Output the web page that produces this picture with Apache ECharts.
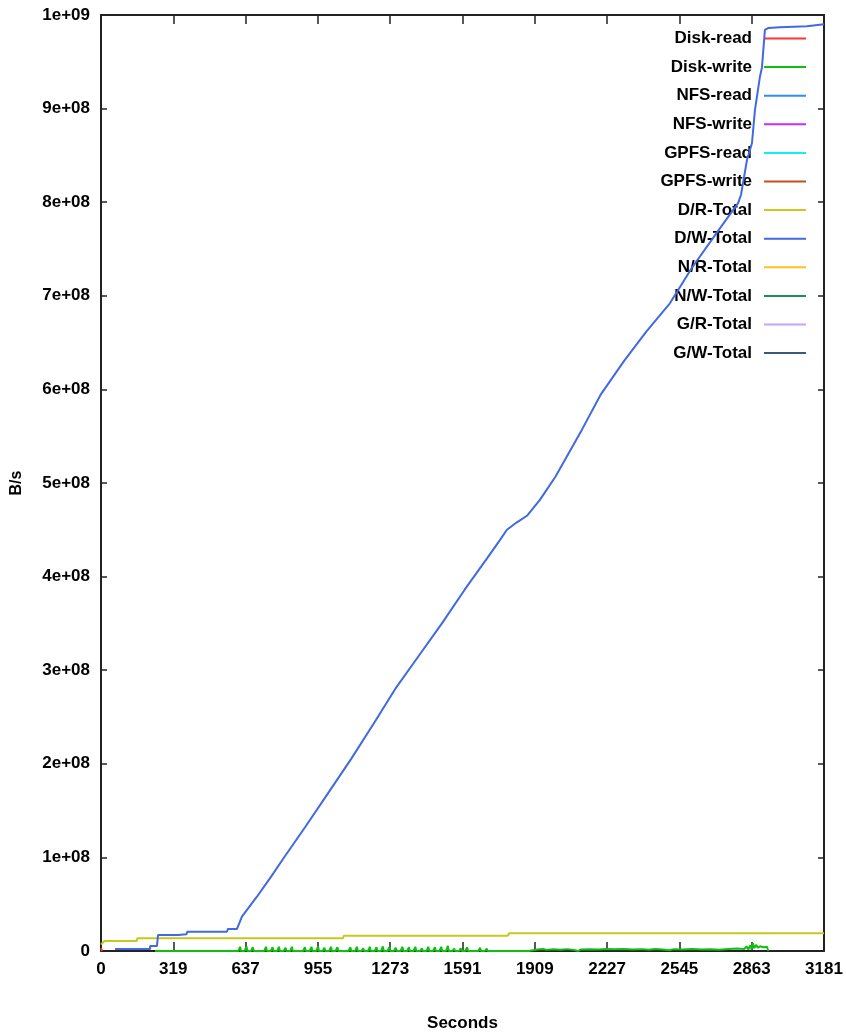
<!DOCTYPE html>
<html>
<head>
<meta charset="utf-8">
<title>I/O throughput</title>
<script src="https://cdn.jsdelivr.net/npm/echarts@6/dist/echarts.min.js"></script>
<style>
  html, body { margin: 0; padding: 0; background: #fff; }
  #chart { width: 846px; height: 1034px; }
</style>
</head>
<body>
<div id="chart"></div>
<script>
// Tick labels
const xTickLabels = ['0', '319', '637', '955', '1273', '1591', '1909', '2227', '2545', '2863', '3181'];
const yTickLabels = ['0', '1e+08', '2e+08', '3e+08', '4e+08', '5e+08', '6e+08', '7e+08', '8e+08', '9e+08', '1e+09'];

// Series names, in legend order
const seriesNames = ['Disk-read', 'Disk-write', 'NFS-read', 'NFS-write', 'GPFS-read', 'GPFS-write',
  'D/R-Total', 'D/W-Total', 'N/R-Total', 'N/W-Total', 'G/R-Total', 'G/W-Total'];

// [seconds, bytes/s]
const diskRead = [[0, 3e6], [5, 0]];

// Disk-write bursts: [seconds, peak bytes/s]
const diskWritePeaks = [
  [246, 1.5e6],
  [612, 4.5e6], [640, 5.0e6], [668, 4.0e6], [697, 1.5e6], [726, 4.5e6], [755, 4.0e6], [783, 4.5e6],
  [812, 3.5e6], [840, 4.5e6], [869, 2.0e6], [897, 4.0e6], [926, 4.5e6], [955, 5.0e6], [983, 3.5e6],
  [1012, 4.5e6], [1040, 4.0e6], [1069, 2.0e6], [1097, 4.0e6], [1126, 4.5e6], [1154, 3.0e6], [1183, 4.5e6],
  [1212, 4.0e6], [1240, 5.0e6], [1269, 4.5e6], [1297, 3.5e6], [1326, 4.5e6], [1355, 4.0e6], [1383, 4.5e6],
  [1412, 3.0e6], [1440, 4.5e6], [1469, 4.0e6], [1497, 4.5e6], [1526, 5.5e6], [1554, 2.5e6], [1583, 3.0e6],
  [1611, 4.0e6], [1640, 2.0e6], [1668, 3.5e6], [1697, 2.5e6], [1725, 1.2e6], [1760, 1.0e6], [1795, 1.0e6],
  [1830, 1.2e6], [1860, 1.0e6]
];
// Disk-write sustained period: [seconds, bytes/s]
const diskWriteBand = [
  [1880, 0], [1888, 1.8e6], [1920, 1.5e6], [1945, 2.2e6], [1960, 1.2e6], [1990, 1.8e6], [2020, 1.4e6],
  [2050, 2.0e6], [2080, 1.2e6], [2100, 0], [2110, 1.6e6], [2150, 2.0e6], [2190, 1.5e6], [2220, 2.2e6],
  [2260, 1.8e6], [2300, 2.1e6], [2340, 1.6e6], [2380, 2.0e6], [2410, 1.4e6], [2440, 2.2e6], [2470, 1.6e6],
  [2500, 0.8e6], [2520, 2.0e6], [2560, 1.6e6], [2600, 2.2e6], [2640, 1.5e6], [2680, 2.0e6], [2720, 1.4e6],
  [2760, 2.2e6], [2800, 2.6e6], [2830, 2.0e6], [2840, 5.0e6], [2848, 1.5e6], [2856, 6.0e6], [2862, 2.0e6],
  [2868, 8.5e6], [2874, 3.0e6], [2882, 6.5e6], [2890, 3.5e6], [2900, 5.0e6], [2915, 4.0e6], [2930, 4.5e6],
  [2936, 0]
];

const drTotal = [
  [0, 7e6], [15, 1.07e7], [157, 1.07e7], [160, 1.36e7], [1065, 1.36e7], [1068, 1.63e7],
  [1790, 1.63e7], [1795, 1.9e7], [3181, 1.9e7]
];

const dwTotal = [
  [62, 2.1e6], [216, 2.1e6], [216, 5.3e6], [246, 5.3e6], [251, 1.71e7], [339, 1.71e7], [342, 1.8e7],
  [376, 1.8e7], [379, 2.06e7], [554, 2.06e7], [558, 2.35e7], [598, 2.35e7], [620, 3.67e7], [686, 5.8e7],
  [750, 8.0e7], [800, 9.8e7], [900, 1.33e8], [1000, 1.69e8], [1100, 2.05e8], [1200, 2.43e8], [1300, 2.82e8],
  [1400, 3.16e8], [1500, 3.5e8], [1600, 3.86e8], [1700, 4.2e8], [1755, 4.39e8], [1786, 4.5e8], [1830, 4.58e8],
  [1874, 4.65e8], [1931, 4.82e8], [2000, 5.07e8], [2116, 5.57e8], [2200, 5.95e8], [2300, 6.3e8],
  [2400, 6.62e8], [2503, 6.92e8], [2600, 7.3e8], [2723, 7.72e8], [2803, 7.99e8], [2816, 8.08e8],
  [2842, 8.45e8], [2864, 8.63e8], [2877, 8.98e8], [2899, 9.34e8], [2908, 9.44e8], [2921, 9.84e8],
  [2935, 9.86e8], [2987, 9.87e8], [2990, 9.88e8], [3106, 9.88e8], [3108, 9.9e8], [3181, 9.9e8]
];

const emptySeries = [];

const seriesColors = ['#ff3333', '#10c010', '#2a8cff', '#c030ff', '#10f0f0', '#c05020',
  '#c8c81e', '#4169e1', '#ffc020', '#228b57', '#c8a0ff', '#3a5a78'];

// Disk-write line: each burst ramps up from zero and drops back
const diskWrite = [];
diskWritePeaks.forEach(function (p) {
  diskWrite.push([p[0] - 8, 0], [p[0], p[1]], [p[0] + 4, 0]);
});
diskWriteBand.forEach(function (p) { diskWrite.push(p); });

const seriesData = [diskRead, diskWrite, emptySeries, emptySeries, emptySeries, emptySeries,
  drTotal, dwTotal, emptySeries, emptySeries, emptySeries, emptySeries];

const FONT = "'Liberation Sans', Arial, sans-serif";
const AXIS_COLOR = '#222';

const chart = echarts.init(document.getElementById('chart'), null, { renderer: 'canvas' });

const xLabel = function (v) { return xTickLabels[Math.round(v / 318.1)]; };
const yLabel = function (v) { return yTickLabels[Math.round(v / 1e8)]; };

const baseX = {
  type: 'value', min: 0, max: 3181, interval: 318.1,
  axisLine: { show: true, onZero: false, lineStyle: { color: AXIS_COLOR, width: 2 } },
  axisTick: { show: true, inside: true, length: 9, lineStyle: { color: AXIS_COLOR, width: 1.5 } },
  splitLine: { show: false }
};
const baseY = {
  type: 'value', min: 0, max: 1e9, interval: 1e8,
  axisLine: { show: true, onZero: false, lineStyle: { color: AXIS_COLOR, width: 2 } },
  axisTick: { show: true, inside: true, length: 6, lineStyle: { color: AXIS_COLOR, width: 1.5 } },
  splitLine: { show: false }
};

chart.setOption({
  animation: false,
  backgroundColor: '#fff',
  grid: { left: 101, right: 22, top: 15, bottom: 83, containLabel: false, outerBoundsMode: 'none' },
  legend: {
    data: seriesNames,
    orient: 'vertical',
    align: 'right',
    right: 40,
    top: 30,
    padding: 0,
    itemWidth: 42,
    itemHeight: 14,
    itemGap: 11.6,
    icon: 'path://M0,6.5 L42,6.5 L42,8.5 L0,8.5 Z',
    textStyle: { fontFamily: FONT, fontWeight: 'bold', fontSize: 17, lineHeight: 14, color: '#000', padding: [0, 7, 0, 0] },
    inactiveColor: '#ccc'
  },
  xAxis: [
    Object.assign({}, baseX, {
      position: 'bottom',
      name: 'Seconds', nameLocation: 'middle', nameGap: 64, nameMoveOverlap: false,
      nameTextStyle: { fontFamily: FONT, fontWeight: 'bold', fontSize: 17, color: '#000' },
      axisLabel: { formatter: xLabel, margin: 10, fontFamily: FONT, fontWeight: 'bold', fontSize: 17, color: '#000', showMaxLabel: true, showMinLabel: true }
    }),
    Object.assign({}, baseX, { position: 'top', axisLabel: { show: false } })
  ],
  yAxis: [
    Object.assign({}, baseY, {
      position: 'left',
      name: 'B/s', nameLocation: 'middle', nameGap: 76, nameRotate: 90, nameMoveOverlap: false,
      nameTextStyle: { fontFamily: FONT, fontWeight: 'bold', fontSize: 16, color: '#000' },
      axisLabel: { formatter: yLabel, margin: 11, fontFamily: FONT, fontWeight: 'bold', fontSize: 17, color: '#000' }
    }),
    Object.assign({}, baseY, { position: 'right', axisLabel: { show: false } })
  ],
  series: seriesNames.map(function (name, i) {
    return {
      name: name,
      type: 'line',
      xAxisIndex: 0,
      yAxisIndex: 0,
      data: seriesData[i],
      showSymbol: false,
      symbol: 'none',
      color: seriesColors[i],
      lineStyle: { width: 2, color: seriesColors[i] },
      z: i === 7 ? 4 : 3
    };
  })
});
</script>
</body>
</html>
